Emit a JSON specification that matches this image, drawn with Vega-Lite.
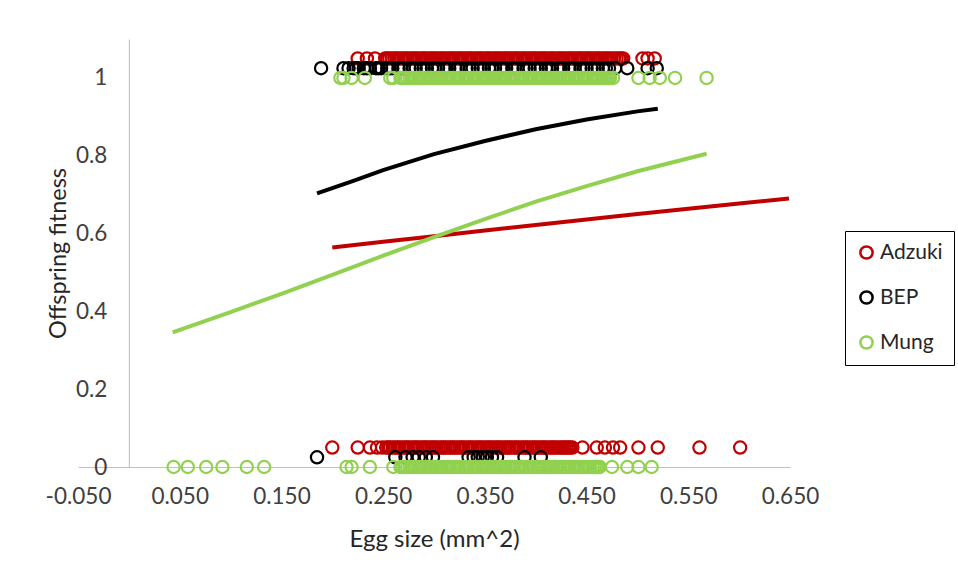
{
  "$schema": "https://vega.github.io/schema/vega-lite/v6.json",
  "width": 712,
  "height": 428,
  "autosize": {"type": "none"},
  "padding": {"left": 78, "top": 39, "right": 168, "bottom": 114},
  "background": "white",
  "config": {"view": {"stroke": null}, "font": "Lato"},
  "datasets": {
    "points": [
      {"species":"Adzuki","egg":0.225,"fit":1.05},{"species":"Adzuki","egg":0.234,"fit":1.05},{"species":"Adzuki","egg":0.242,"fit":1.05},{"species":"Adzuki","egg":0.252,"fit":1.05},{"species":"Adzuki","egg":0.256,"fit":1.05},{"species":"Adzuki","egg":0.261,"fit":1.05},{"species":"Adzuki","egg":0.265,"fit":1.05},{"species":"Adzuki","egg":0.27,"fit":1.05},{"species":"Adzuki","egg":0.274,"fit":1.05},{"species":"Adzuki","egg":0.279,"fit":1.05},{"species":"Adzuki","egg":0.283,"fit":1.05},{"species":"Adzuki","egg":0.288,"fit":1.05},{"species":"Adzuki","egg":0.292,"fit":1.05},{"species":"Adzuki","egg":0.297,"fit":1.05},{"species":"Adzuki","egg":0.301,"fit":1.05},{"species":"Adzuki","egg":0.306,"fit":1.05},{"species":"Adzuki","egg":0.31,"fit":1.05},{"species":"Adzuki","egg":0.315,"fit":1.05},{"species":"Adzuki","egg":0.319,"fit":1.05},{"species":"Adzuki","egg":0.324,"fit":1.05},{"species":"Adzuki","egg":0.328,"fit":1.05},{"species":"Adzuki","egg":0.333,"fit":1.05},{"species":"Adzuki","egg":0.337,"fit":1.05},{"species":"Adzuki","egg":0.342,"fit":1.05},{"species":"Adzuki","egg":0.346,"fit":1.05},{"species":"Adzuki","egg":0.351,"fit":1.05},{"species":"Adzuki","egg":0.355,"fit":1.05},{"species":"Adzuki","egg":0.36,"fit":1.05},{"species":"Adzuki","egg":0.364,"fit":1.05},{"species":"Adzuki","egg":0.369,"fit":1.05},{"species":"Adzuki","egg":0.373,"fit":1.05},{"species":"Adzuki","egg":0.378,"fit":1.05},{"species":"Adzuki","egg":0.382,"fit":1.05},{"species":"Adzuki","egg":0.387,"fit":1.05},{"species":"Adzuki","egg":0.391,"fit":1.05},{"species":"Adzuki","egg":0.396,"fit":1.05},{"species":"Adzuki","egg":0.4,"fit":1.05},{"species":"Adzuki","egg":0.405,"fit":1.05},{"species":"Adzuki","egg":0.409,"fit":1.05},{"species":"Adzuki","egg":0.414,"fit":1.05},{"species":"Adzuki","egg":0.418,"fit":1.05},{"species":"Adzuki","egg":0.423,"fit":1.05},{"species":"Adzuki","egg":0.427,"fit":1.05},{"species":"Adzuki","egg":0.432,"fit":1.05},{"species":"Adzuki","egg":0.436,"fit":1.05},{"species":"Adzuki","egg":0.441,"fit":1.05},{"species":"Adzuki","egg":0.445,"fit":1.05},{"species":"Adzuki","egg":0.45,"fit":1.05},{"species":"Adzuki","egg":0.454,"fit":1.05},{"species":"Adzuki","egg":0.459,"fit":1.05},{"species":"Adzuki","egg":0.463,"fit":1.05},{"species":"Adzuki","egg":0.468,"fit":1.05},{"species":"Adzuki","egg":0.472,"fit":1.05},{"species":"Adzuki","egg":0.477,"fit":1.05},{"species":"Adzuki","egg":0.482,"fit":1.05},{"species":"Adzuki","egg":0.486,"fit":1.05},{"species":"Adzuki","egg":0.505,"fit":1.05},{"species":"Adzuki","egg":0.51,"fit":1.05},{"species":"Adzuki","egg":0.517,"fit":1.05},
      {"species":"Adzuki","egg":0.254,"fit":1.05},{"species":"Adzuki","egg":0.2585,"fit":1.05},{"species":"Adzuki","egg":0.263,"fit":1.05},{"species":"Adzuki","egg":0.2675,"fit":1.05},{"species":"Adzuki","egg":0.272,"fit":1.05},{"species":"Adzuki","egg":0.2765,"fit":1.05},{"species":"Adzuki","egg":0.281,"fit":1.05},{"species":"Adzuki","egg":0.2855,"fit":1.05},{"species":"Adzuki","egg":0.29,"fit":1.05},{"species":"Adzuki","egg":0.2945,"fit":1.05},{"species":"Adzuki","egg":0.299,"fit":1.05},{"species":"Adzuki","egg":0.3035,"fit":1.05},{"species":"Adzuki","egg":0.308,"fit":1.05},{"species":"Adzuki","egg":0.3125,"fit":1.05},{"species":"Adzuki","egg":0.317,"fit":1.05},{"species":"Adzuki","egg":0.3215,"fit":1.05},{"species":"Adzuki","egg":0.326,"fit":1.05},{"species":"Adzuki","egg":0.3305,"fit":1.05},{"species":"Adzuki","egg":0.335,"fit":1.05},{"species":"Adzuki","egg":0.3395,"fit":1.05},{"species":"Adzuki","egg":0.344,"fit":1.05},{"species":"Adzuki","egg":0.3485,"fit":1.05},{"species":"Adzuki","egg":0.353,"fit":1.05},{"species":"Adzuki","egg":0.3575,"fit":1.05},{"species":"Adzuki","egg":0.362,"fit":1.05},{"species":"Adzuki","egg":0.3665,"fit":1.05},{"species":"Adzuki","egg":0.371,"fit":1.05},{"species":"Adzuki","egg":0.3755,"fit":1.05},{"species":"Adzuki","egg":0.38,"fit":1.05},{"species":"Adzuki","egg":0.3845,"fit":1.05},{"species":"Adzuki","egg":0.389,"fit":1.05},{"species":"Adzuki","egg":0.3935,"fit":1.05},{"species":"Adzuki","egg":0.398,"fit":1.05},{"species":"Adzuki","egg":0.4025,"fit":1.05},{"species":"Adzuki","egg":0.407,"fit":1.05},{"species":"Adzuki","egg":0.4115,"fit":1.05},{"species":"Adzuki","egg":0.416,"fit":1.05},{"species":"Adzuki","egg":0.4205,"fit":1.05},{"species":"Adzuki","egg":0.425,"fit":1.05},{"species":"Adzuki","egg":0.4295,"fit":1.05},{"species":"Adzuki","egg":0.434,"fit":1.05},{"species":"Adzuki","egg":0.4385,"fit":1.05},{"species":"Adzuki","egg":0.443,"fit":1.05},{"species":"Adzuki","egg":0.4475,"fit":1.05},{"species":"Adzuki","egg":0.452,"fit":1.05},{"species":"Adzuki","egg":0.4565,"fit":1.05},{"species":"Adzuki","egg":0.461,"fit":1.05},{"species":"Adzuki","egg":0.4655,"fit":1.05},{"species":"Adzuki","egg":0.47,"fit":1.05},{"species":"Adzuki","egg":0.4745,"fit":1.05},{"species":"Adzuki","egg":0.4795,"fit":1.05},{"species":"Adzuki","egg":0.484,"fit":1.05},
      {"species":"Adzuki","egg":0.2,"fit":0.05},{"species":"Adzuki","egg":0.225,"fit":0.05},{"species":"Adzuki","egg":0.237,"fit":0.05},{"species":"Adzuki","egg":0.244,"fit":0.05},{"species":"Adzuki","egg":0.249,"fit":0.05},{"species":"Adzuki","egg":0.253,"fit":0.05},{"species":"Adzuki","egg":0.257,"fit":0.05},{"species":"Adzuki","egg":0.262,"fit":0.05},{"species":"Adzuki","egg":0.266,"fit":0.05},{"species":"Adzuki","egg":0.271,"fit":0.05},{"species":"Adzuki","egg":0.275,"fit":0.05},{"species":"Adzuki","egg":0.28,"fit":0.05},{"species":"Adzuki","egg":0.284,"fit":0.05},{"species":"Adzuki","egg":0.289,"fit":0.05},{"species":"Adzuki","egg":0.293,"fit":0.05},{"species":"Adzuki","egg":0.298,"fit":0.05},{"species":"Adzuki","egg":0.302,"fit":0.05},{"species":"Adzuki","egg":0.307,"fit":0.05},{"species":"Adzuki","egg":0.311,"fit":0.05},{"species":"Adzuki","egg":0.316,"fit":0.05},{"species":"Adzuki","egg":0.32,"fit":0.05},{"species":"Adzuki","egg":0.325,"fit":0.05},{"species":"Adzuki","egg":0.329,"fit":0.05},{"species":"Adzuki","egg":0.334,"fit":0.05},{"species":"Adzuki","egg":0.338,"fit":0.05},{"species":"Adzuki","egg":0.343,"fit":0.05},{"species":"Adzuki","egg":0.347,"fit":0.05},{"species":"Adzuki","egg":0.352,"fit":0.05},{"species":"Adzuki","egg":0.356,"fit":0.05},{"species":"Adzuki","egg":0.361,"fit":0.05},{"species":"Adzuki","egg":0.365,"fit":0.05},{"species":"Adzuki","egg":0.37,"fit":0.05},{"species":"Adzuki","egg":0.374,"fit":0.05},{"species":"Adzuki","egg":0.379,"fit":0.05},{"species":"Adzuki","egg":0.383,"fit":0.05},{"species":"Adzuki","egg":0.388,"fit":0.05},{"species":"Adzuki","egg":0.392,"fit":0.05},{"species":"Adzuki","egg":0.397,"fit":0.05},{"species":"Adzuki","egg":0.401,"fit":0.05},{"species":"Adzuki","egg":0.406,"fit":0.05},{"species":"Adzuki","egg":0.41,"fit":0.05},{"species":"Adzuki","egg":0.415,"fit":0.05},{"species":"Adzuki","egg":0.419,"fit":0.05},{"species":"Adzuki","egg":0.424,"fit":0.05},{"species":"Adzuki","egg":0.428,"fit":0.05},{"species":"Adzuki","egg":0.432,"fit":0.05},{"species":"Adzuki","egg":0.436,"fit":0.05},{"species":"Adzuki","egg":0.446,"fit":0.05},{"species":"Adzuki","egg":0.46,"fit":0.05},{"species":"Adzuki","egg":0.468,"fit":0.05},{"species":"Adzuki","egg":0.476,"fit":0.05},{"species":"Adzuki","egg":0.483,"fit":0.05},{"species":"Adzuki","egg":0.501,"fit":0.05},{"species":"Adzuki","egg":0.52,"fit":0.05},{"species":"Adzuki","egg":0.561,"fit":0.05},{"species":"Adzuki","egg":0.601,"fit":0.05},
      {"species":"Adzuki","egg":0.255,"fit":0.05},{"species":"Adzuki","egg":0.2595,"fit":0.05},{"species":"Adzuki","egg":0.264,"fit":0.05},{"species":"Adzuki","egg":0.2685,"fit":0.05},{"species":"Adzuki","egg":0.273,"fit":0.05},{"species":"Adzuki","egg":0.2775,"fit":0.05},{"species":"Adzuki","egg":0.282,"fit":0.05},{"species":"Adzuki","egg":0.2865,"fit":0.05},{"species":"Adzuki","egg":0.291,"fit":0.05},{"species":"Adzuki","egg":0.2955,"fit":0.05},{"species":"Adzuki","egg":0.3,"fit":0.05},{"species":"Adzuki","egg":0.3045,"fit":0.05},{"species":"Adzuki","egg":0.309,"fit":0.05},{"species":"Adzuki","egg":0.3135,"fit":0.05},{"species":"Adzuki","egg":0.318,"fit":0.05},{"species":"Adzuki","egg":0.3225,"fit":0.05},{"species":"Adzuki","egg":0.327,"fit":0.05},{"species":"Adzuki","egg":0.3315,"fit":0.05},{"species":"Adzuki","egg":0.336,"fit":0.05},{"species":"Adzuki","egg":0.3405,"fit":0.05},{"species":"Adzuki","egg":0.345,"fit":0.05},{"species":"Adzuki","egg":0.3495,"fit":0.05},{"species":"Adzuki","egg":0.354,"fit":0.05},{"species":"Adzuki","egg":0.3585,"fit":0.05},{"species":"Adzuki","egg":0.363,"fit":0.05},{"species":"Adzuki","egg":0.3675,"fit":0.05},{"species":"Adzuki","egg":0.372,"fit":0.05},{"species":"Adzuki","egg":0.3765,"fit":0.05},{"species":"Adzuki","egg":0.381,"fit":0.05},{"species":"Adzuki","egg":0.3855,"fit":0.05},{"species":"Adzuki","egg":0.39,"fit":0.05},{"species":"Adzuki","egg":0.3945,"fit":0.05},{"species":"Adzuki","egg":0.399,"fit":0.05},{"species":"Adzuki","egg":0.4035,"fit":0.05},{"species":"Adzuki","egg":0.408,"fit":0.05},{"species":"Adzuki","egg":0.4125,"fit":0.05},{"species":"Adzuki","egg":0.417,"fit":0.05},{"species":"Adzuki","egg":0.4215,"fit":0.05},{"species":"Adzuki","egg":0.426,"fit":0.05},{"species":"Adzuki","egg":0.43,"fit":0.05},{"species":"Adzuki","egg":0.434,"fit":0.05},
      {"species":"BEP","egg":0.189,"fit":1.025},{"species":"BEP","egg":0.211,"fit":1.025},{"species":"BEP","egg":0.216,"fit":1.025},{"species":"BEP","egg":0.221,"fit":1.025},{"species":"BEP","egg":0.226,"fit":1.025},{"species":"BEP","egg":0.231,"fit":1.025},{"species":"BEP","egg":0.237,"fit":1.025},{"species":"BEP","egg":0.243,"fit":1.025},{"species":"BEP","egg":0.248,"fit":1.025},{"species":"BEP","egg":0.254,"fit":1.025},{"species":"BEP","egg":0.259,"fit":1.025},{"species":"BEP","egg":0.265,"fit":1.025},{"species":"BEP","egg":0.27,"fit":1.025},{"species":"BEP","egg":0.276,"fit":1.025},{"species":"BEP","egg":0.282,"fit":1.025},{"species":"BEP","egg":0.287,"fit":1.025},{"species":"BEP","egg":0.293,"fit":1.025},{"species":"BEP","egg":0.298,"fit":1.025},{"species":"BEP","egg":0.304,"fit":1.025},{"species":"BEP","egg":0.31,"fit":1.025},{"species":"BEP","egg":0.315,"fit":1.025},{"species":"BEP","egg":0.321,"fit":1.025},{"species":"BEP","egg":0.326,"fit":1.025},{"species":"BEP","egg":0.332,"fit":1.025},{"species":"BEP","egg":0.338,"fit":1.025},{"species":"BEP","egg":0.343,"fit":1.025},{"species":"BEP","egg":0.349,"fit":1.025},{"species":"BEP","egg":0.354,"fit":1.025},{"species":"BEP","egg":0.36,"fit":1.025},{"species":"BEP","egg":0.366,"fit":1.025},{"species":"BEP","egg":0.371,"fit":1.025},{"species":"BEP","egg":0.377,"fit":1.025},{"species":"BEP","egg":0.382,"fit":1.025},{"species":"BEP","egg":0.388,"fit":1.025},{"species":"BEP","egg":0.394,"fit":1.025},{"species":"BEP","egg":0.399,"fit":1.025},{"species":"BEP","egg":0.405,"fit":1.025},{"species":"BEP","egg":0.41,"fit":1.025},{"species":"BEP","egg":0.416,"fit":1.025},{"species":"BEP","egg":0.422,"fit":1.025},{"species":"BEP","egg":0.427,"fit":1.025},{"species":"BEP","egg":0.433,"fit":1.025},{"species":"BEP","egg":0.438,"fit":1.025},{"species":"BEP","egg":0.444,"fit":1.025},{"species":"BEP","egg":0.45,"fit":1.025},{"species":"BEP","egg":0.455,"fit":1.025},{"species":"BEP","egg":0.461,"fit":1.025},{"species":"BEP","egg":0.466,"fit":1.025},{"species":"BEP","egg":0.472,"fit":1.025},{"species":"BEP","egg":0.478,"fit":1.025},{"species":"BEP","egg":0.49,"fit":1.025},{"species":"BEP","egg":0.51,"fit":1.025},{"species":"BEP","egg":0.519,"fit":1.025},
      {"species":"BEP","egg":0.2235,"fit":1.025},{"species":"BEP","egg":0.234,"fit":1.025},{"species":"BEP","egg":0.2455,"fit":1.025},{"species":"BEP","egg":0.2565,"fit":1.025},{"species":"BEP","egg":0.2675,"fit":1.025},{"species":"BEP","egg":0.279,"fit":1.025},{"species":"BEP","egg":0.29,"fit":1.025},{"species":"BEP","egg":0.301,"fit":1.025},{"species":"BEP","egg":0.3125,"fit":1.025},{"species":"BEP","egg":0.3235,"fit":1.025},{"species":"BEP","egg":0.335,"fit":1.025},{"species":"BEP","egg":0.346,"fit":1.025},{"species":"BEP","egg":0.357,"fit":1.025},{"species":"BEP","egg":0.3685,"fit":1.025},{"species":"BEP","egg":0.3795,"fit":1.025},{"species":"BEP","egg":0.391,"fit":1.025},{"species":"BEP","egg":0.402,"fit":1.025},{"species":"BEP","egg":0.413,"fit":1.025},{"species":"BEP","egg":0.4245,"fit":1.025},{"species":"BEP","egg":0.4355,"fit":1.025},{"species":"BEP","egg":0.447,"fit":1.025},{"species":"BEP","egg":0.458,"fit":1.025},{"species":"BEP","egg":0.469,"fit":1.025},
      {"species":"BEP","egg":0.185,"fit":0.025},{"species":"BEP","egg":0.262,"fit":0.025},{"species":"BEP","egg":0.272,"fit":0.025},{"species":"BEP","egg":0.279,"fit":0.025},{"species":"BEP","egg":0.285,"fit":0.025},{"species":"BEP","egg":0.292,"fit":0.025},{"species":"BEP","egg":0.299,"fit":0.025},{"species":"BEP","egg":0.334,"fit":0.025},{"species":"BEP","egg":0.339,"fit":0.025},{"species":"BEP","egg":0.343,"fit":0.025},{"species":"BEP","egg":0.348,"fit":0.025},{"species":"BEP","egg":0.352,"fit":0.025},{"species":"BEP","egg":0.357,"fit":0.025},{"species":"BEP","egg":0.362,"fit":0.025},{"species":"BEP","egg":0.389,"fit":0.025},{"species":"BEP","egg":0.405,"fit":0.025},
      {"species":"Mung","egg":0.208,"fit":1},{"species":"Mung","egg":0.211,"fit":1},{"species":"Mung","egg":0.219,"fit":1},{"species":"Mung","egg":0.232,"fit":1},{"species":"Mung","egg":0.257,"fit":1},{"species":"Mung","egg":0.26,"fit":1},{"species":"Mung","egg":0.267,"fit":1},{"species":"Mung","egg":0.271,"fit":1},{"species":"Mung","egg":0.276,"fit":1},{"species":"Mung","egg":0.28,"fit":1},{"species":"Mung","egg":0.285,"fit":1},{"species":"Mung","egg":0.289,"fit":1},{"species":"Mung","egg":0.294,"fit":1},{"species":"Mung","egg":0.298,"fit":1},{"species":"Mung","egg":0.303,"fit":1},{"species":"Mung","egg":0.307,"fit":1},{"species":"Mung","egg":0.312,"fit":1},{"species":"Mung","egg":0.316,"fit":1},{"species":"Mung","egg":0.321,"fit":1},{"species":"Mung","egg":0.325,"fit":1},{"species":"Mung","egg":0.33,"fit":1},{"species":"Mung","egg":0.334,"fit":1},{"species":"Mung","egg":0.339,"fit":1},{"species":"Mung","egg":0.343,"fit":1},{"species":"Mung","egg":0.348,"fit":1},{"species":"Mung","egg":0.352,"fit":1},{"species":"Mung","egg":0.357,"fit":1},{"species":"Mung","egg":0.361,"fit":1},{"species":"Mung","egg":0.366,"fit":1},{"species":"Mung","egg":0.37,"fit":1},{"species":"Mung","egg":0.375,"fit":1},{"species":"Mung","egg":0.379,"fit":1},{"species":"Mung","egg":0.384,"fit":1},{"species":"Mung","egg":0.388,"fit":1},{"species":"Mung","egg":0.393,"fit":1},{"species":"Mung","egg":0.397,"fit":1},{"species":"Mung","egg":0.402,"fit":1},{"species":"Mung","egg":0.406,"fit":1},{"species":"Mung","egg":0.411,"fit":1},{"species":"Mung","egg":0.415,"fit":1},{"species":"Mung","egg":0.42,"fit":1},{"species":"Mung","egg":0.424,"fit":1},{"species":"Mung","egg":0.429,"fit":1},{"species":"Mung","egg":0.433,"fit":1},{"species":"Mung","egg":0.438,"fit":1},{"species":"Mung","egg":0.442,"fit":1},{"species":"Mung","egg":0.447,"fit":1},{"species":"Mung","egg":0.451,"fit":1},{"species":"Mung","egg":0.456,"fit":1},{"species":"Mung","egg":0.46,"fit":1},{"species":"Mung","egg":0.465,"fit":1},{"species":"Mung","egg":0.469,"fit":1},{"species":"Mung","egg":0.473,"fit":1},{"species":"Mung","egg":0.476,"fit":1},{"species":"Mung","egg":0.501,"fit":1},{"species":"Mung","egg":0.512,"fit":1},{"species":"Mung","egg":0.522,"fit":1},{"species":"Mung","egg":0.537,"fit":1},{"species":"Mung","egg":0.568,"fit":1},
      {"species":"Mung","egg":0.269,"fit":1},{"species":"Mung","egg":0.2735,"fit":1},{"species":"Mung","egg":0.278,"fit":1},{"species":"Mung","egg":0.2825,"fit":1},{"species":"Mung","egg":0.287,"fit":1},{"species":"Mung","egg":0.2915,"fit":1},{"species":"Mung","egg":0.296,"fit":1},{"species":"Mung","egg":0.3005,"fit":1},{"species":"Mung","egg":0.305,"fit":1},{"species":"Mung","egg":0.3095,"fit":1},{"species":"Mung","egg":0.314,"fit":1},{"species":"Mung","egg":0.3185,"fit":1},{"species":"Mung","egg":0.323,"fit":1},{"species":"Mung","egg":0.3275,"fit":1},{"species":"Mung","egg":0.332,"fit":1},{"species":"Mung","egg":0.3365,"fit":1},{"species":"Mung","egg":0.341,"fit":1},{"species":"Mung","egg":0.3455,"fit":1},{"species":"Mung","egg":0.35,"fit":1},{"species":"Mung","egg":0.3545,"fit":1},{"species":"Mung","egg":0.359,"fit":1},{"species":"Mung","egg":0.3635,"fit":1},{"species":"Mung","egg":0.368,"fit":1},{"species":"Mung","egg":0.3725,"fit":1},{"species":"Mung","egg":0.377,"fit":1},{"species":"Mung","egg":0.3815,"fit":1},{"species":"Mung","egg":0.386,"fit":1},{"species":"Mung","egg":0.3905,"fit":1},{"species":"Mung","egg":0.395,"fit":1},{"species":"Mung","egg":0.3995,"fit":1},{"species":"Mung","egg":0.404,"fit":1},{"species":"Mung","egg":0.4085,"fit":1},{"species":"Mung","egg":0.413,"fit":1},{"species":"Mung","egg":0.4175,"fit":1},{"species":"Mung","egg":0.422,"fit":1},{"species":"Mung","egg":0.4265,"fit":1},{"species":"Mung","egg":0.431,"fit":1},{"species":"Mung","egg":0.4355,"fit":1},{"species":"Mung","egg":0.44,"fit":1},{"species":"Mung","egg":0.4445,"fit":1},{"species":"Mung","egg":0.449,"fit":1},{"species":"Mung","egg":0.4535,"fit":1},{"species":"Mung","egg":0.458,"fit":1},{"species":"Mung","egg":0.4625,"fit":1},{"species":"Mung","egg":0.467,"fit":1},{"species":"Mung","egg":0.471,"fit":1},
      {"species":"Mung","egg":0.044,"fit":0},{"species":"Mung","egg":0.058,"fit":0},{"species":"Mung","egg":0.076,"fit":0},{"species":"Mung","egg":0.092,"fit":0},{"species":"Mung","egg":0.116,"fit":0},{"species":"Mung","egg":0.133,"fit":0},{"species":"Mung","egg":0.214,"fit":0},{"species":"Mung","egg":0.219,"fit":0},{"species":"Mung","egg":0.237,"fit":0},{"species":"Mung","egg":0.26,"fit":0},{"species":"Mung","egg":0.267,"fit":0},{"species":"Mung","egg":0.271,"fit":0},{"species":"Mung","egg":0.276,"fit":0},{"species":"Mung","egg":0.28,"fit":0},{"species":"Mung","egg":0.285,"fit":0},{"species":"Mung","egg":0.289,"fit":0},{"species":"Mung","egg":0.294,"fit":0},{"species":"Mung","egg":0.298,"fit":0},{"species":"Mung","egg":0.303,"fit":0},{"species":"Mung","egg":0.307,"fit":0},{"species":"Mung","egg":0.312,"fit":0},{"species":"Mung","egg":0.316,"fit":0},{"species":"Mung","egg":0.321,"fit":0},{"species":"Mung","egg":0.325,"fit":0},{"species":"Mung","egg":0.33,"fit":0},{"species":"Mung","egg":0.334,"fit":0},{"species":"Mung","egg":0.339,"fit":0},{"species":"Mung","egg":0.343,"fit":0},{"species":"Mung","egg":0.348,"fit":0},{"species":"Mung","egg":0.352,"fit":0},{"species":"Mung","egg":0.357,"fit":0},{"species":"Mung","egg":0.361,"fit":0},{"species":"Mung","egg":0.366,"fit":0},{"species":"Mung","egg":0.37,"fit":0},{"species":"Mung","egg":0.375,"fit":0},{"species":"Mung","egg":0.379,"fit":0},{"species":"Mung","egg":0.384,"fit":0},{"species":"Mung","egg":0.388,"fit":0},{"species":"Mung","egg":0.393,"fit":0},{"species":"Mung","egg":0.397,"fit":0},{"species":"Mung","egg":0.402,"fit":0},{"species":"Mung","egg":0.406,"fit":0},{"species":"Mung","egg":0.411,"fit":0},{"species":"Mung","egg":0.415,"fit":0},{"species":"Mung","egg":0.42,"fit":0},{"species":"Mung","egg":0.424,"fit":0},{"species":"Mung","egg":0.429,"fit":0},{"species":"Mung","egg":0.433,"fit":0},{"species":"Mung","egg":0.438,"fit":0},{"species":"Mung","egg":0.442,"fit":0},{"species":"Mung","egg":0.447,"fit":0},{"species":"Mung","egg":0.451,"fit":0},{"species":"Mung","egg":0.456,"fit":0},{"species":"Mung","egg":0.46,"fit":0},{"species":"Mung","egg":0.463,"fit":0},{"species":"Mung","egg":0.475,"fit":0},{"species":"Mung","egg":0.49,"fit":0},{"species":"Mung","egg":0.501,"fit":0},{"species":"Mung","egg":0.514,"fit":0},
      {"species":"Mung","egg":0.269,"fit":0},{"species":"Mung","egg":0.2735,"fit":0},{"species":"Mung","egg":0.278,"fit":0},{"species":"Mung","egg":0.2825,"fit":0},{"species":"Mung","egg":0.287,"fit":0},{"species":"Mung","egg":0.2915,"fit":0},{"species":"Mung","egg":0.296,"fit":0},{"species":"Mung","egg":0.3005,"fit":0},{"species":"Mung","egg":0.305,"fit":0},{"species":"Mung","egg":0.3095,"fit":0},{"species":"Mung","egg":0.314,"fit":0},{"species":"Mung","egg":0.3185,"fit":0},{"species":"Mung","egg":0.323,"fit":0},{"species":"Mung","egg":0.3275,"fit":0},{"species":"Mung","egg":0.332,"fit":0},{"species":"Mung","egg":0.3365,"fit":0},{"species":"Mung","egg":0.341,"fit":0},{"species":"Mung","egg":0.3455,"fit":0},{"species":"Mung","egg":0.35,"fit":0},{"species":"Mung","egg":0.3545,"fit":0},{"species":"Mung","egg":0.359,"fit":0},{"species":"Mung","egg":0.3635,"fit":0},{"species":"Mung","egg":0.368,"fit":0},{"species":"Mung","egg":0.3725,"fit":0},{"species":"Mung","egg":0.377,"fit":0},{"species":"Mung","egg":0.3815,"fit":0},{"species":"Mung","egg":0.386,"fit":0},{"species":"Mung","egg":0.3905,"fit":0},{"species":"Mung","egg":0.395,"fit":0},{"species":"Mung","egg":0.3995,"fit":0},{"species":"Mung","egg":0.404,"fit":0},{"species":"Mung","egg":0.4085,"fit":0},{"species":"Mung","egg":0.413,"fit":0},{"species":"Mung","egg":0.4175,"fit":0},{"species":"Mung","egg":0.422,"fit":0},{"species":"Mung","egg":0.4265,"fit":0},{"species":"Mung","egg":0.431,"fit":0},{"species":"Mung","egg":0.4355,"fit":0},{"species":"Mung","egg":0.44,"fit":0},{"species":"Mung","egg":0.4445,"fit":0},{"species":"Mung","egg":0.449,"fit":0},{"species":"Mung","egg":0.4535,"fit":0},{"species":"Mung","egg":0.458,"fit":0},{"species":"Mung","egg":0.4615,"fit":0}
    ],
    "curves": [
      {"species":"Adzuki","egg":0.2,"fit":0.564},{"species":"Adzuki","egg":0.25,"fit":0.579},{"species":"Adzuki","egg":0.3,"fit":0.593},{"species":"Adzuki","egg":0.35,"fit":0.608},{"species":"Adzuki","egg":0.4,"fit":0.622},{"species":"Adzuki","egg":0.45,"fit":0.636},{"species":"Adzuki","egg":0.5,"fit":0.65},{"species":"Adzuki","egg":0.55,"fit":0.664},{"species":"Adzuki","egg":0.6,"fit":0.677},{"species":"Adzuki","egg":0.649,"fit":0.69},
      {"species":"BEP","egg":0.185,"fit":0.703},{"species":"BEP","egg":0.22,"fit":0.735},{"species":"BEP","egg":0.25,"fit":0.763},{"species":"BEP","egg":0.3,"fit":0.804},{"species":"BEP","egg":0.35,"fit":0.838},{"species":"BEP","egg":0.4,"fit":0.868},{"species":"BEP","egg":0.45,"fit":0.893},{"species":"BEP","egg":0.5,"fit":0.914},{"species":"BEP","egg":0.52,"fit":0.921},
      {"species":"Mung","egg":0.043,"fit":0.346},{"species":"Mung","egg":0.1,"fit":0.398},{"species":"Mung","egg":0.15,"fit":0.445},{"species":"Mung","egg":0.2,"fit":0.494},{"species":"Mung","egg":0.25,"fit":0.543},{"species":"Mung","egg":0.3,"fit":0.591},{"species":"Mung","egg":0.35,"fit":0.637},{"species":"Mung","egg":0.4,"fit":0.682},{"species":"Mung","egg":0.45,"fit":0.722},{"species":"Mung","egg":0.5,"fit":0.76},{"species":"Mung","egg":0.568,"fit":0.805}
    ]
  },
  "layer": [
    {
      "data": {"name": "points"},
      "mark": {"type": "point", "shape": "circle", "filled": false, "size": 150, "strokeWidth": 2.2, "opacity": 1},
      "encoding": {
        "x": {
          "field": "egg", "type": "quantitative",
          "scale": {"domain": [-0.05, 0.65], "nice": false, "zero": false},
          "axis": {
            "values": [-0.05, 0.05, 0.15, 0.25, 0.35, 0.45, 0.55, 0.65],
            "labelExpr": "replace(format(datum.value, '.3f'), '\u2212', '-')",
            "ticks": false, "grid": false, "domainColor": "#BFBFBF", "domainWidth": 1,
            "labelFontSize": 22.5, "labelColor": "#404040", "labelPadding": 18, "labelFlush": false, "labelOverlap": false,
            "title": "Egg size (mm^2)", "titleFontSize": 24, "titleFontWeight": "normal", "titleColor": "#262626",
            "titleY": 79, "titleBaseline": "alphabetic"
          }
        },
        "y": {
          "field": "fit", "type": "quantitative",
          "scale": {"domain": [0, 1.1], "nice": false, "zero": false},
          "axis": {
            "values": [0, 0.2, 0.4, 0.6, 0.8, 1],
            "format": "~g",
            "offset": -50.85,
            "ticks": false, "grid": false, "domainColor": "#BFBFBF", "domainWidth": 1,
            "labelFontSize": 22.5, "labelColor": "#404040", "labelPadding": 22, "labelFlush": false, "labelOverlap": false,
            "title": "Offspring fitness", "titleFontSize": 23.5, "titleFontWeight": "normal", "titleColor": "#262626",
            "titleX": -63, "titleBaseline": "alphabetic"
          }
        },
        "color": {
          "field": "species", "type": "nominal",
          "scale": {"domain": ["Adzuki", "BEP", "Mung"], "range": ["#C00000", "#000000", "#92D050"]},
          "legend": {
            "orient": "none", "legendX": 767, "legendY": 192, "title": null,
            "strokeColor": "#000000", "fillColor": "white", "padding": 11,
            "labelFontSize": 21, "labelColor": "#262626", "symbolSize": 150, "symbolStrokeWidth": 2.5,
            "symbolType": "circle", "rowPadding": 22, "labelOffset": 3
          }
        }
      }
    },
    {
      "data": {"name": "curves"},
      "mark": {"type": "line", "strokeWidth": 4},
      "encoding": {
        "x": {"field": "egg", "type": "quantitative"},
        "y": {"field": "fit", "type": "quantitative"},
        "color": {"field": "species", "type": "nominal", "legend": null}
      }
    }
  ],
  "resolve": {"legend": {"color": "independent"}}
}
